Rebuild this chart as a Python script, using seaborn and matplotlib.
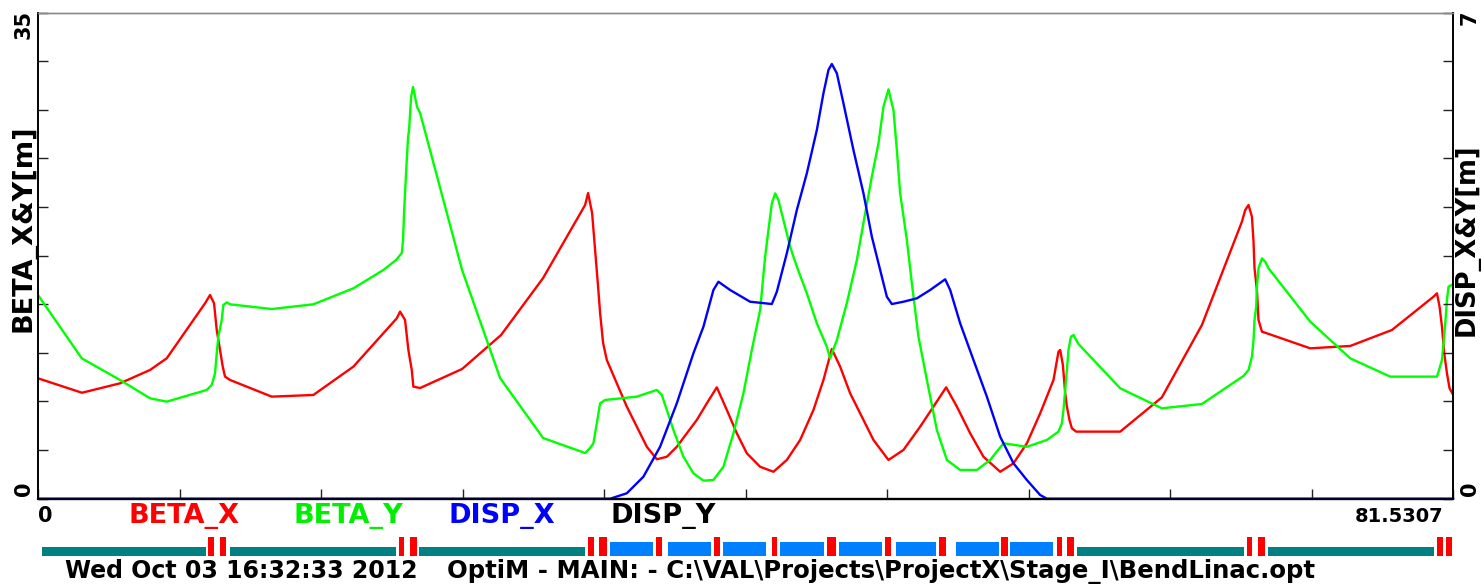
import numpy as np
import pandas as pd
import matplotlib
matplotlib.use("Agg")
import matplotlib.pyplot as plt
import seaborn as sns

# ---------------- data ----------------
S_END = 81.5307

beta_x_s = [0.0, 2.535, 4.725, 6.453, 7.415, 9.622, 9.910, 10.141, 10.296, 10.486, 10.642, 10.774,
            11.062, 13.465, 15.862, 18.167, 20.667, 20.857, 21.145, 21.336, 21.532, 21.624, 22.010,
            24.430, 26.677, 29.097, 31.517, 31.689, 31.920, 32.093, 32.266, 32.381, 32.554, 32.767,
            33.343, 33.919, 34.495, 35.072, 35.648, 36.224, 36.800, 37.376, 37.952, 38.529, 39.105,
            39.681, 40.257, 40.833, 41.599, 42.366, 43.138, 43.904, 44.671, 45.247, 45.730, 46.209,
            46.785, 47.361, 48.128, 48.992, 49.856, 50.818, 51.585, 52.316, 52.933, 53.699, 54.466,
            55.428, 56.194, 56.966, 57.732, 58.499, 58.787, 58.885, 59.040, 59.173, 59.271, 59.421,
            59.559, 59.806, 62.342, 64.744, 67.049, 69.354, 69.544, 69.734, 69.930, 70.022, 70.080,
            70.218, 70.310, 70.506, 70.794, 73.289, 75.593, 77.996, 80.393, 80.589, 80.739, 80.877,
            81.010, 81.165, 81.315, 81.5307]
beta_x = [8.67, 7.63, 8.31, 9.27, 10.11, 14.07, 14.67, 14.07, 12.15, 10.71, 9.51, 8.79,
          8.55, 7.35, 7.47, 9.51, 12.99, 13.47, 12.87, 10.71, 9.27, 8.07, 7.97,
          9.34, 11.79, 15.89, 21.15, 22.01, 20.57, 17.91, 15.25, 13.37, 11.21, 9.99,
          8.31, 6.63, 5.19, 3.74, 2.84, 3.02, 3.74, 4.71, 5.67, 6.87, 8.02,
          6.39, 4.71, 3.27, 2.30, 1.94, 2.79, 4.23, 6.39, 8.55, 10.78, 9.51,
          7.59, 6.15, 4.23, 2.79, 3.51, 5.19, 6.63, 8.02, 6.63, 4.71, 3.02,
          1.94, 2.55, 3.99, 6.15, 8.55, 10.59, 10.71, 9.63, 7.61, 6.63, 5.67,
          5.07, 4.83, 4.83, 7.30, 12.51, 19.95, 20.79, 21.15, 20.31, 18.51, 16.59,
          15.03, 12.87, 12.03, 11.91, 10.83, 11.00, 12.15, 14.55, 14.79, 13.83, 12.39,
          10.47, 9.03, 7.95, 7.47]

beta_y_s = [0.0, 2.518, 4.725, 6.453, 7.415, 9.720, 10.008, 10.198, 10.296, 10.388, 10.584, 10.676,
            10.872, 11.062, 13.465, 15.862, 18.167, 19.895, 20.627, 20.955, 21.030, 21.088, 21.203,
            21.318, 21.376, 21.492, 21.606, 21.722, 21.837, 22.010, 24.430, 26.619, 29.097, 31.517,
            31.805, 31.995, 32.191, 32.381, 32.669, 34.495, 35.648, 35.936, 36.224, 36.604, 37.180,
            37.756, 38.333, 38.909, 39.485, 40.061, 40.637, 41.121, 41.599, 41.888, 42.078, 42.274,
            42.464, 42.654, 42.942, 43.328, 43.714, 44.290, 44.866, 45.442, 45.633, 46.019, 46.595,
            47.171, 47.649, 48.035, 48.416, 48.704, 48.992, 49.280, 49.476, 49.666, 50.052, 50.340,
            50.720, 51.205, 51.781, 52.357, 53.123, 54.085, 54.851, 55.618, 56.966, 58.118, 58.787,
            58.983, 59.075, 59.173, 59.271, 59.363, 59.502, 59.661, 59.806, 59.938, 62.342, 64.744,
            67.049, 69.446, 69.734, 69.930, 70.022, 70.080, 70.177, 70.218, 70.310, 70.506, 70.696,
            70.886, 73.289, 75.593, 77.898, 80.589, 80.681, 80.877, 80.969, 81.067, 81.165, 81.257,
            81.5307]
beta_y = [14.67, 10.11, 8.55, 7.23, 6.99, 7.83, 8.19, 9.03, 10.47, 11.67, 12.87, 13.95,
          14.14, 14.00, 13.66, 14.00, 15.15, 16.47, 17.19, 17.69, 18.63, 20.65, 23.46,
          26.05, 26.55, 28.93, 29.65, 28.93, 28.21, 27.78, 16.47, 8.69, 4.37, 3.29,
          3.65, 3.99, 5.43, 6.87, 7.11, 7.35, 7.83, 7.47, 6.39, 4.95, 3.02,
          1.83, 1.30, 1.35, 2.30, 4.71, 7.59, 10.71, 13.59, 17.43, 19.35, 21.27,
          21.99, 21.51, 20.07, 18.15, 16.71, 14.79, 12.63, 10.95, 10.11, 11.43, 14.09,
          17.19, 20.55, 23.19, 25.59, 28.23, 29.48, 27.99, 25.11, 21.99, 18.63, 15.51,
          11.67, 8.55, 4.95, 2.79, 2.07, 2.07, 2.79, 3.99, 3.74, 4.23, 4.83,
          5.43, 6.39, 7.83, 9.27, 10.71, 11.67, 11.79, 11.43, 11.14, 7.95, 6.51,
          6.82, 8.84, 9.27, 10.23, 11.43, 12.87, 13.83, 15.27, 16.59, 17.31, 17.07,
          16.59, 12.75, 10.11, 8.79, 8.79, 9.15, 9.99, 11.19, 12.63, 14.31, 15.27,
          15.46]

disp_x_s = [0.0, 32.957, 33.919, 34.876, 35.838, 36.800, 37.756, 38.333, 38.909, 39.197, 39.871,
            41.023, 42.274, 42.562, 43.138, 43.714, 44.290, 44.866, 45.247, 45.535, 45.730, 46.019,
            46.399, 46.975, 47.552, 48.035, 48.514, 48.900, 49.188, 49.856, 50.628, 51.394, 52.259,
            52.547, 53.123, 53.890, 54.662, 55.428, 56.194, 56.966, 57.732, 58.118, 81.5307]
disp_x = [0.0, 0.0, 0.078, 0.317, 0.749, 1.374, 2.094, 2.477, 3.006, 3.125, 3.006,
          2.837, 2.804, 2.981, 3.535, 4.158, 4.687, 5.310, 5.839, 6.175, 6.261, 6.127,
          5.695, 5.022, 4.399, 3.774, 3.294, 2.909, 2.804, 2.837, 2.886, 3.006, 3.160,
          3.006, 2.526, 1.998, 1.469, 0.893, 0.510, 0.269, 0.053, 0.0, 0.0]

disp_y_s = [0.0, S_END]
disp_y = [0.0, 0.0]

# lattice elements: start, end [m], type (D = drift, Q = quad, B = bend)
elem_start = [0.219, 9.818, 10.486, 11.062, 20.771, 21.434, 21.952, 31.689, 32.300,
              32.928, 35.607, 36.270, 38.949, 39.468, 42.274, 42.753, 45.461, 46.134, 48.790,
              49.436, 51.930, 52.893, 55.469, 56.004, 58.688, 59.288,
              59.864, 69.630, 70.293, 70.840, 80.607, 81.114]
elem_end = [9.651, 10.141, 10.832, 20.627, 21.088, 21.837, 31.517, 32.035, 32.761,
            35.434, 35.953, 38.776, 39.295, 41.945, 42.580, 45.288, 45.945, 48.629, 49.148,
            51.757, 52.305, 55.370, 55.871, 58.481, 59.000, 59.691,
            69.469, 69.947, 70.679, 80.434, 80.924, 81.471]
elem_type = ["D", "Q", "Q", "D", "Q", "Q", "D", "Q", "Q",
             "B", "Q", "B", "Q", "B", "Q", "B", "Q", "B", "Q",
             "B", "Q", "B", "Q", "B", "Q", "Q",
             "D", "Q", "Q", "D", "Q", "Q"]

legend_labels = ["BETA_X", "BETA_Y", "DISP_X", "DISP_Y"]
footer_date = "Wed Oct 03 16:32:33 2012"
footer_file = r"OptiM - MAIN: - C:\VAL\Projects\ProjectX\Stage_I\BendLinac.opt"

# ---------------- style ----------------
sns.set_style("white")
plt.rcParams["font.family"] = ["DejaVu Sans"]
plt.rcParams["font.weight"] = "bold"
plt.rcParams["text.color"] = "black"

W, H = 1482, 586
fig = plt.figure(figsize=(W / 100, H / 100), dpi=100)

def fx(px):
    return px / W

def fy(py):
    return 1 - py / H

x0, x1, y0, y1 = 38.0, 1453.3, 12.7, 498.7
ax = fig.add_axes([fx(x0), fy(y1), (x1 - x0) / W, (y1 - y0) / H])
ax2 = ax.twinx()

RED, GREEN, BLUE = "#ff0000", "#00ff00", "#0000ff"
LW = 1.7

df_bx = pd.DataFrame({"s": beta_x_s, "v": beta_x})
df_by = pd.DataFrame({"s": beta_y_s, "v": beta_y})
df_dx = pd.DataFrame({"s": disp_x_s, "v": disp_x})
df_dy = pd.DataFrame({"s": disp_y_s, "v": disp_y})

sns.lineplot(data=df_bx, x="s", y="v", ax=ax, color=RED, lw=LW, sort=False, estimator=None)
sns.lineplot(data=df_by, x="s", y="v", ax=ax, color=GREEN, lw=LW, sort=False, estimator=None)
sns.lineplot(data=df_dy, x="s", y="v", ax=ax2, color="black", lw=LW, sort=False, estimator=None,
             clip_on=False)
sns.lineplot(data=df_dx, x="s", y="v", ax=ax2, color=BLUE, lw=LW, sort=False, estimator=None,
             clip_on=False)

ax.set_xlim(0, S_END)
ax.set_ylim(0, 35)
ax2.set_ylim(0, 7)
for a in (ax, ax2):
    a.set_xlabel("")
    a.set_ylabel("")

ax.set_xticks(np.linspace(0, S_END, 11))
ax.set_yticks(np.linspace(0, 35, 11))
ax2.set_yticks(np.linspace(0, 7, 11))
ax.tick_params(axis="both", direction="in", length=7, width=1.0, color="#222222",
               labelbottom=False, labelleft=False, bottom=True, left=True, top=False, right=False)
ax2.tick_params(axis="y", direction="in", length=7, width=1.0, color="#222222",
                labelright=False, right=True)

for a in (ax, ax2):
    for side in ("left", "right", "bottom"):
        a.spines[side].set_color("black")
        a.spines[side].set_linewidth(1.2)
        a.spines[side].set_visible(True)
    a.spines["top"].set_color("#8a8a8a")
    a.spines["top"].set_linewidth(1.0)

# ---------------- texts ----------------
tk = dict(fontsize=15, fontweight="bold", color="black")
fig.text(fx(24), fy(24), "35", rotation=90, ha="center", va="center", **tk)
fig.text(fx(24), fy(489), "0", rotation=90, ha="center", va="center", **tk)
fig.text(fx(1470), fy(18), "7", rotation=90, ha="center", va="center", **tk)
fig.text(fx(1470), fy(489), "0", rotation=90, ha="center", va="center", **tk)
fig.text(fx(24), fy(228), "BETA_X&Y[m]", rotation=90, ha="center", va="center",
         fontsize=19.5, fontweight="bold", color="black")
fig.text(fx(1467), fy(240), "DISP_X&Y[m]", rotation=90, ha="center", va="center",
         fontsize=18.5, fontweight="bold", color="black")

fig.text(fx(38), fy(516), "0", ha="left", va="center", **tk)
fig.text(fx(1443), fy(516), "81.5307", ha="right", va="center", fontsize=14,
         fontweight="bold", color="black")
leg_x = [184, 348, 502, 663]
leg_c = [RED, "#00ee00", BLUE, "black"]
for lab, px, c in zip(legend_labels, leg_x, leg_c):
    fig.text(fx(px), fy(516), lab, ha="center", va="center", color=c,
             fontsize=19.5, fontweight="bold")

fig.text(fx(65), fy(571), footer_date, ha="left", va="center", fontsize=17,
         fontweight="bold", color="black")
fig.text(fx(447), fy(571), footer_file, ha="left", va="center", fontsize=17.6,
         fontweight="bold", color="black")

# ---------------- lattice bar ----------------
axe = fig.add_axes([fx(x0), fy(556), (x1 - x0) / W, 19.3 / H])
axe.set_xlim(0, S_END)
axe.set_ylim(0, 1)
axe.axis("off")
h_map = {"D": 0.49, "Q": 1.0, "B": 0.72}
c_map = {"D": "#008080", "Q": "#ff0000", "B": "#0080ff"}
starts = np.array(elem_start)
widths = np.array(elem_end) - starts
axe.bar(starts, [h_map[t] for t in elem_type], width=widths, align="edge",
        color=[c_map[t] for t in elem_type], linewidth=0)

fig.savefig("out.png", dpi=100)
